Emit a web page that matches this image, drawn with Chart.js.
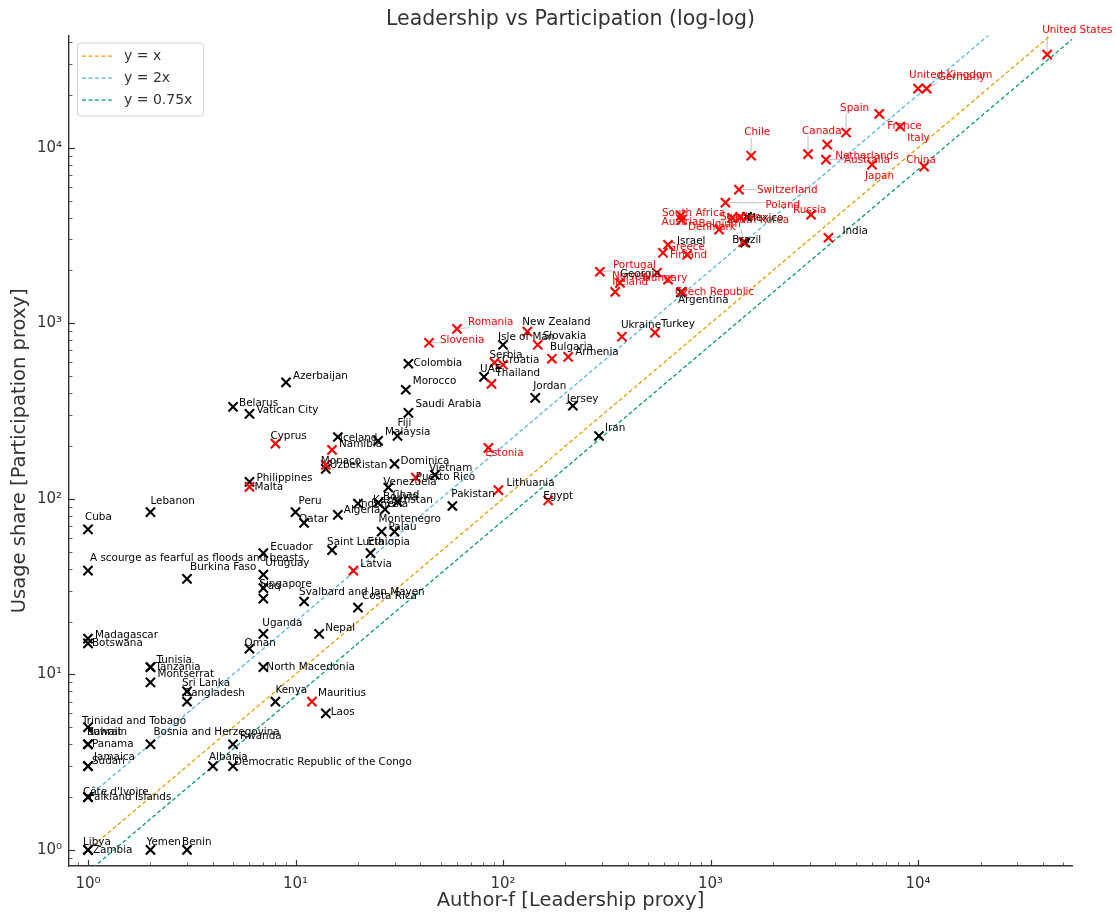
<!DOCTYPE html>
<html>
<head>
<meta charset="utf-8">
<script src="https://cdn.jsdelivr.net/npm/chart.js@4.4.1/dist/chart.umd.min.js"></script>
<style>
    body { margin: 0; background: #fff; }
</style>
</head>
<body>
<canvas id="scatterChart" width="1117" height="913"></canvas>
<script>
// ---- data ----
const countries = [
    "United States", "United Kingdom", "Germany", "Spain", "France", "Italy", "Chile", "Canada", "Netherlands", "Australia", "Japan", "China",
    "Switzerland", "Russia", "India", "Mexico", "Poland", "South Korea", "Sweden", "South Africa", "Austria", "Belgium", "Denmark", "Brazil",
    "Israel", "Greece", "Finland", "Portugal", "Norway", "Georgia", "Hungary", "Ireland", "Czech Republic", "Argentina",
    "Ukraine", "Turkey", "New Zealand", "Isle of Man", "Slovakia", "Bulgaria", "Armenia", "Serbia", "Croatia", "UAE", "Thailand",
    "Romania", "Slovenia", "Jordan", "Jersey", "Iran", "Colombia", "Morocco", "Saudi Arabia", "Estonia", "Lithuania", "Egypt", "Pakistan",
    "Vietnam", "Puerto Rico", "Venezuela", "Dominica", "Chad", "Kazakhstan", "Indonesia", "Bolivia", "Algeria", "Montenegro", "Palau",
    "Azerbaijan", "Belarus", "Vatican City", "Cyprus", "Iceland", "Namibia", "Malaysia", "Fiji", "Monaco", "Uzbekistan", "Philippines", "Malta",
    "Lebanon", "Cuba", "Peru", "Qatar", "Saint Lucia", "Ethiopia", "Latvia", "A scourge as fearful as floods and beasts", "Ecuador", "Uruguay",
    "Burkina Faso", "Singapore", "Iraq", "Svalbard and Jan Mayen", "Costa Rica", "Uganda", "Nepal", "Madagascar", "Botswana", "Oman",
    "Tunisia", "Tanzania", "Montserrat", "North Macedonia", "Sri Lanka", "Bangladesh", "Kenya", "Mauritius", "Laos",
    "Trinidad and Tobago", "Bahrain", "Kuwait", "Panama", "Bosnia and Herzegovina", "Rwanda", "Jamaica", "Sudan", "Albania",
    "Democratic Republic of the Congo", "Côte d'Ivoire", "Falkland Islands", "Libya", "Zambia", "Yemen", "Benin"
];

// Author-f [Leadership proxy]
const authorF = [
    41900, 10000, 11000, 4500, 6500, 8200, 1570, 2950, 3650, 3600, 6000, 10700,
    1370, 3050, 3700, 1500, 1180, 1390, 1270, 720, 725, 1440, 1100, 1470,
    624, 590, 771, 293, 366, 552, 624, 347, 729, 720,
    374, 540, 131, 100, 147, 172, 206, 91, 100, 81, 88,
    60, 44, 143, 217, 290, 35, 34, 35, 85, 95, 165, 57,
    47, 38, 28, 30, 31, 27, 20, 25, 16, 26, 30,
    9, 5, 6, 8, 16, 15, 25, 31, 14, 14, 6, 6,
    2, 1, 10, 11, 15, 23, 19, 1, 7, 7,
    3, 7, 7, 11, 20, 7, 13, 1, 1, 6,
    2, 2, 2, 7, 3, 3, 8, 12, 14,
    1, 1, 1, 1, 2, 5, 1, 1, 4,
    5, 1, 1, 1, 1, 2, 3
];

// Usage share [Participation proxy]
const usageShare = [
    33900, 21700, 21700, 12200, 15600, 13200, 9000, 9200, 10400, 8550, 8000, 7800,
    5770, 4150, 3070, 4040, 4860, 4040, 3990, 4100, 3880, 2900, 3410, 2875,
    2800, 2520, 2455, 1965, 1700, 1940, 1770, 1510, 1510, 1500,
    838, 884, 895, 754, 754, 628, 644, 596, 580, 495, 452,
    930, 774, 376, 339, 228, 588, 418, 309, 195, 112, 98, 91,
    137, 132, 116, 158, 96, 87, 94, 95, 81, 65, 65,
    460, 334, 305, 206, 225, 190, 214, 228, 156, 148, 125, 117,
    84, 67, 84, 73, 51, 49, 39, 39, 49, 37,
    35, 31, 27, 26, 24, 17, 17, 16, 15, 14,
    11, 11, 9, 11, 8, 7, 7, 7, 6,
    5, 4, 4, 4, 4, 4, 3, 3, 3,
    3, 2, 2, 1, 1, 1, 1
];

// 1 = red marker, 0 = black marker
const markerGroup = [
    1, 1, 1, 1, 1, 1, 1, 1, 1, 1, 1, 1,
    1, 1, 1, 0, 1, 1, 1, 1, 1, 1, 1, 0,
    1, 1, 1, 1, 1, 1, 1, 1, 1, 0,
    1, 1, 1, 0, 1, 1, 1, 1, 1, 0, 1,
    1, 1, 0, 0, 0, 0, 0, 0, 1, 1, 1, 0,
    0, 1, 0, 0, 0, 0, 0, 0, 0, 0, 0,
    0, 0, 0, 1, 0, 1, 0, 0, 1, 0, 0, 1,
    0, 0, 0, 0, 0, 0, 1, 0, 0, 0,
    0, 0, 0, 0, 0, 0, 0, 0, 0, 0,
    0, 0, 0, 0, 0, 0, 0, 1, 0,
    0, 0, 0, 0, 0, 0, 0, 0, 0,
    0, 0, 0, 0, 0, 0, 0
];

// 1 = red label text, 0 = black label text
const labelGroup = [
    1, 1, 1, 1, 1, 1, 1, 1, 1, 1, 1, 1,
    1, 1, 0, 0, 1, 1, 1, 1, 1, 1, 1, 0,
    0, 1, 1, 1, 1, 0, 1, 1, 1, 0,
    0, 0, 0, 0, 0, 0, 0, 0, 0, 0, 0,
    1, 1, 0, 0, 0, 0, 0, 0, 1, 0, 0, 0,
    0, 0, 0, 0, 0, 0, 0, 0, 0, 0, 0,
    0, 0, 0, 0, 0, 0, 0, 0, 0, 0, 0, 0,
    0, 0, 0, 0, 0, 0, 0, 0, 0, 0,
    0, 0, 0, 0, 0, 0, 0, 0, 0, 0,
    0, 0, 0, 0, 0, 0, 0, 0, 0,
    0, 0, 0, 0, 0, 0, 0, 0, 0,
    0, 0, 0, 0, 0, 0, 0
];

const refNames = ["y = x", "y = 2x", "y = 0.75x"];
const refSlopes = [1, 2, 0.75];
const refColors = ["#E69F00", "#56B4E9", "#009E73"];

const tickValues = [1, 10, 100, 1000, 10000];
const superDigits = ["⁰", "¹", "²", "³", "⁴"];

// ---- layout (label placement in pixels, relative to each marker) ----
const labelOffsets = [
    [-5, -24], [-9, -13], [11, -11], [-6, -24], [8, 13], [7, 12], [-7, -23], [-6, -23], [8, 12], [18, 1], [-7, 12], [-18, -6],
    [18, 1], [-18, -4], [14, -6], [0, 1], [40, 3], [-14, 3], [-12, 0], [-19, -2], [-20, 2], [-45, -18], [-31, -2], [-13, -2],
    [9, -3], [5, -5], [-17, 1], [13, -6], [-8, -6], [-37, 2], [-25, -1], [-3, -10], [-7, 0], [-3, 8],
    [-1, -11], [6, -8], [-5, -9], [-5, -7], [5, -8], [-2, -11], [7, -5], [-5, -7], [-1, -4], [-4, -8], [4, -11],
    [11, -6], [11, -2], [-2, -12], [-6, -6], [6, -8], [5, 0], [7, -8], [7, -8], [-3, 5], [8, -7], [-5, -4], [-1, -12],
    [-6, -7], [0, 0], [-5, -5], [6, -3], [-5, -7], [-12, -9], [0, 1], [5, -5], [6, -5], [-3, -12], [-6, -4],
    [7, -6], [6, -4], [7, -3], [-5, -7], [2, 1], [7, -6], [7, -9], [0, -13], [-5, -4], [4, -4], [7, -4], [5, 0],
    [0, -11], [-3, -12], [3, -11], [-5, -4], [-5, -8], [-3, -11], [7, -6], [2, -12], [7, -6], [2, -11],
    [3, -12], [-4, -4], [-3, -12], [-5, -9], [4, -11], [-1, -11], [6, -6], [7, -3], [4, 0], [-5, -5],
    [6, -7], [5, 0], [7, -8], [3, 0], [-5, -8], [-3, -8], [0, -11], [6, -8], [5, -1],
    [-6, -6], [-1, -12], [-1, -12], [4, 0], [3, -12], [7, -8], [6, -9], [4, -5], [-4, -9],
    [1, -4], [-5, -5], [1, 0], [-5, -8], [5, 0], [-4, -8], [-5, -8]
];

const xMin = 0.81, xMax = 55200;
const yMin = 0.81, yMax = 43500;
const fontFamily = '"DejaVu Sans", sans-serif';
const labelFont = "10.4px " + fontFamily;

const redPoints = [];
const blackPoints = [];
countries.forEach((name, i) => {
    const pt = { x: authorF[i], y: usageShare[i] };
    if (markerGroup[i]) redPoints.push(pt); else blackPoints.push(pt);
});

const refDatasets = refNames.map((name, i) => ({
    label: name,
    data: [1, xMax].map((v) => ({ x: v, y: v * refSlopes[i] })),
    showLine: true,
    borderColor: refColors[i],
    borderWidth: 1.3,
    borderDash: [4, 2.5],
    pointRadius: 0,
    fill: false
}));

function tickLabel(v) {
    const idx = tickValues.indexOf(v);
    return idx >= 0 ? "10" + superDigits[idx] : "";
}

// inward tick marks (major at decades, minor at 2..9)
const tickMarks = {
    id: "tickMarks",
    afterDraw(chart) {
        const { ctx, chartArea, scales: { x, y } } = chart;
        ctx.save();
        ctx.strokeStyle = "#333";
        for (let d = -1; d <= 4; d++) {
            for (let m = 1; m <= 9; m++) {
                const v = m * Math.pow(10, d);
                const major = m === 1;
                ctx.lineWidth = major ? 1.2 : 0.8;
                const len = major ? 6 : 3.5;
                if (v >= xMin && v <= xMax) {
                    const px = Math.round(x.getPixelForValue(v)) + 0.5;
                    ctx.beginPath();
                    ctx.moveTo(px, chartArea.bottom);
                    ctx.lineTo(px, chartArea.bottom - len);
                    ctx.stroke();
                }
                if (v >= yMin && v <= yMax) {
                    const py = Math.round(y.getPixelForValue(v)) + 0.5;
                    ctx.beginPath();
                    ctx.moveTo(chartArea.left, py);
                    ctx.lineTo(chartArea.left + len, py);
                    ctx.stroke();
                }
            }
        }
        ctx.restore();
    }
};

function labelBox(chart, i) {
    const { ctx, scales: { x, y } } = chart;
    const px = x.getPixelForValue(authorF[i]);
    const py = y.getPixelForValue(usageShare[i]);
    const tx = px + labelOffsets[i][0];
    const ty = py + labelOffsets[i][1];
    const w = ctx.measureText(countries[i]).width;
    return { px, py, tx, ty, w };
}

// thin grey leader lines for labels pushed away from their marker
const leaderLines = {
    id: "leaderLines",
    beforeDatasetsDraw(chart) {
        const { ctx } = chart;
        ctx.save();
        ctx.font = labelFont;
        ctx.strokeStyle = "#b0b0b0";
        ctx.lineWidth = 0.8;
        countries.forEach((name, i) => {
            const b = labelBox(chart, i);
            const cx = Math.max(b.tx, Math.min(b.px, b.tx + b.w));
            const cy = Math.max(b.ty - 5, Math.min(b.py, b.ty + 5));
            if (Math.hypot(cx - b.px, cy - b.py) > 9) {
                ctx.beginPath();
                ctx.moveTo(b.px, b.py);
                ctx.lineTo(cx, cy);
                ctx.stroke();
            }
        });
        ctx.restore();
    }
};

const pointLabels = {
    id: "pointLabels",
    afterDatasetsDraw(chart) {
        const { ctx } = chart;
        ctx.save();
        ctx.font = labelFont;
        ctx.textBaseline = "middle";
        ctx.textAlign = "left";
        countries.forEach((name, i) => {
            const b = labelBox(chart, i);
            ctx.fillStyle = labelGroup[i] ? "#ff0000" : "#000000";
            ctx.fillText(name, b.tx, b.ty);
        });
        ctx.restore();
    }
};

const insetLegend = {
    id: "insetLegend",
    afterDraw(chart) {
        const { ctx, chartArea } = chart;
        const left = chartArea.left + 8, top = chartArea.top + 7;
        const w = 126, h = 73;
        ctx.save();
        ctx.fillStyle = "rgba(255,255,255,0.85)";
        ctx.strokeStyle = "#d0d0d0";
        ctx.lineWidth = 1;
        ctx.beginPath();
        ctx.roundRect(left + 0.5, top + 0.5, w, h, 3);
        ctx.fill();
        ctx.stroke();
        ctx.font = "14px " + fontFamily;
        ctx.textBaseline = "middle";
        refNames.forEach((name, i) => {
            const yy = top + 13.5 + i * 22;
            ctx.strokeStyle = refColors[i];
            ctx.lineWidth = 1.4;
            ctx.setLineDash([4, 2.5]);
            ctx.beginPath();
            ctx.moveTo(left + 5, yy);
            ctx.lineTo(left + 35, yy);
            ctx.stroke();
            ctx.setLineDash([]);
            ctx.fillStyle = "#333";
            ctx.fillText(name, left + 47, yy);
        });
        ctx.restore();
    }
};

const ctx = document.getElementById("scatterChart").getContext("2d");

new Chart(ctx, {
    type: "scatter",
    data: {
        datasets: [
            {
                label: "red",
                data: redPoints,
                pointStyle: "crossRot",
                pointRadius: 6.5,
                pointBorderColor: "#ff0000",
                pointBorderWidth: 2.1,
                pointBackgroundColor: "#ff0000"
            },
            {
                label: "black",
                data: blackPoints,
                pointStyle: "crossRot",
                pointRadius: 6.5,
                pointBorderColor: "#000000",
                pointBorderWidth: 2.1,
                pointBackgroundColor: "#000000"
            },
            ...refDatasets
        ]
    },
    options: {
        responsive: false,
        animation: false,
        events: [],
        layout: { padding: { left: 0, right: 45, top: 0, bottom: 0 } },
        plugins: {
            legend: { display: false },
            tooltip: { enabled: false },
            title: {
                display: true,
                fullSize: false,
                text: "Leadership vs Participation (log-log)",
                color: "#333",
                font: { family: fontFamily, size: 20.5, weight: "normal" },
                padding: { top: 7, bottom: 4 }
            }
        },
        scales: {
            x: {
                type: "logarithmic",
                min: xMin,
                max: xMax,
                afterBuildTicks: (s) => { s.ticks = tickValues.map((v) => ({ value: v })); },
                afterFit: (s) => { s.height = 47; },
                grid: { display: false, drawTicks: false },
                border: { display: true, color: "#333", width: 1.4 },
                ticks: {
                    callback: (v) => tickLabel(v),
                    color: "#333",
                    autoSkip: false,
                    maxRotation: 0,
                    padding: 9,
                    font: { family: fontFamily, size: 15 }
                },
                title: {
                    display: true,
                    text: "Author-f [Leadership proxy]",
                    color: "#333",
                    font: { family: fontFamily, size: 19.5 },
                    padding: { top: 0, bottom: 0 }
                }
            },
            y: {
                type: "logarithmic",
                min: yMin,
                max: yMax,
                afterBuildTicks: (s) => { s.ticks = tickValues.map((v) => ({ value: v })); },
                afterFit: (s) => { s.width = 69; },
                grid: { display: false, drawTicks: false },
                border: { display: true, color: "#333", width: 1.4 },
                ticks: {
                    callback: (v) => tickLabel(v),
                    color: "#333",
                    autoSkip: false,
                    padding: 7,
                    font: { family: fontFamily, size: 15 }
                },
                title: {
                    display: true,
                    text: "Usage share [Participation proxy]",
                    color: "#333",
                    font: { family: fontFamily, size: 19.5 },
                    padding: { top: 8, bottom: 0 }
                }
            }
        }
    },
    plugins: [tickMarks, leaderLines, pointLabels, insetLegend]
});
</script>
</body>
</html>
